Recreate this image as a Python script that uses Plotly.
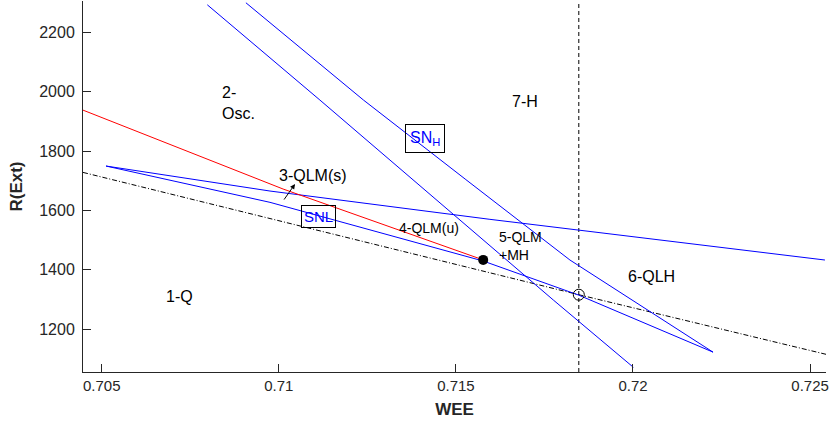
import plotly.graph_objects as go

# ---- data ----
red_x = [0.70447, 0.71012, 0.71577]
red_y = [1938.0, 1672.0, 1433.0]

dashdot_x = [0.70447, 0.71847, 0.72545]
dashdot_y = [1728.0, 1315.6, 1114.7]

snl_upper_x = [0.70512, 0.70975, 0.71596, 0.72542]
snl_upper_y = [1749.5, 1665.2, 1569.8, 1432.6]

snl_lower_x = [0.70512, 0.70975, 0.71577, 0.71846, 0.72226]
snl_lower_y = [1749.5, 1627.1, 1429.2, 1314.6, 1122.0]

snh_left_x = [0.70798, 0.71116, 0.71775, 0.72001]
snh_left_y = [2293.2, 1972.0, 1297.8, 1070.9]

snh_right_x = [0.70907, 0.71239, 0.71526, 0.71822, 0.72226]
snh_right_y = [2300.0, 1972.0, 1705.7, 1432.6, 1122.0]

vline_x = [0.71847, 0.71847]
vline_y = [1055.0, 2306.0]

dot_x, dot_y = [0.71577], [1433.0]
circ_x, circ_y = [0.71847], [1315.6]

x_ticks = [0.705, 0.71, 0.715, 0.72, 0.725]
x_ticklabels = ["0.705", "0.71", "0.715", "0.72", "0.725"]
y_ticks = [1200, 1400, 1600, 1800, 2000, 2200]
y_ticklabels = ["1200", "1400", "1600", "1800", "2000", "2200"]

x_range = [0.70447, 0.72545]
y_range = [1055.0, 2306.0]

FONT = "Liberation Sans, Arial, Helvetica, sans-serif"
AXC = "#262626"

fig = go.Figure()

def line(x, y, color, dash="solid", width=1):
    fig.add_trace(go.Scatter(x=x, y=y, mode="lines",
                             line=dict(color=color, width=width, dash=dash),
                             hoverinfo="skip", showlegend=False))

line(dashdot_x, dashdot_y, "black", dash="5px,2px,1px,2px")
line(vline_x, vline_y, "black", dash="4px,3px")
line(snl_upper_x, snl_upper_y, "#0000ff")
line(snl_lower_x, snl_lower_y, "#0000ff")
line(snh_left_x, snh_left_y, "#0000ff")
line(snh_right_x, snh_right_y, "#0000ff")
line(red_x, red_y, "#ff0000")

fig.add_trace(go.Scatter(x=dot_x, y=dot_y, mode="markers",
                         marker=dict(color="black", size=10),
                         hoverinfo="skip", showlegend=False))
fig.add_trace(go.Scatter(x=circ_x, y=circ_y, mode="markers",
                         marker=dict(color="rgba(0,0,0,0)", size=11,
                                     line=dict(color="black", width=1)),
                         hoverinfo="skip", showlegend=False))

def label(x, y, text, size=16, align="center", xanchor="center", color="black", **kw):
    fig.add_annotation(x=x, y=y, xref="x", yref="y", text=text, showarrow=False,
                       font=dict(family=FONT, size=size, color=color),
                       align=align, xanchor=xanchor, yanchor="middle", **kw)

label(0.707202, 1311.2, "1-Q")
label(0.70834, 1961.8, "2-<br>Osc.", align="left", xanchor="left")
label(0.716937, 1966.9, "7-H")
label(0.710957, 1719.1, "3-QLM(s)")
label(0.714235, 1540.5, "4-QLM(u)", size=14)
label(0.716152, 1481.5, "5-QLM<br>+MH", size=14, align="left", xanchor="left")
label(0.720536, 1377.6, "6-QLH")
label(0.714119, 1842.2, "SN<sub>H</sub>", color="#0000ff",
      bordercolor="black", borderwidth=1, borderpad=4)
label(0.711115, 1578.6, "SNL", size=15, color="#0000ff",
      bordercolor="black", borderwidth=1, borderpad=2)

# arrow for 3-QLM(s)
fig.add_annotation(x=0.710457, y=1688.8, xref="x", yref="y", ax=-12, ay=17,
                   text="", showarrow=True, arrowhead=2, arrowsize=1,
                   arrowwidth=1, arrowcolor="black")

fig.update_xaxes(range=x_range, tickvals=x_ticks, ticktext=x_ticklabels,
                 showgrid=False, zeroline=False, showline=True, linecolor=AXC,
                 linewidth=1, ticks="inside", ticklen=8, tickcolor=AXC,
                 ticklabeloverflow="allow",
                 tickfont=dict(family=FONT, size=15, color=AXC),
                 title=dict(text="<b>WEE</b>", font=dict(family=FONT, size=17, color=AXC),
                            standoff=10))
fig.update_yaxes(range=y_range, tickvals=y_ticks, ticktext=y_ticklabels,
                 showgrid=False, zeroline=False, showline=True, linecolor=AXC,
                 linewidth=1, ticks="inside", ticklen=8, tickcolor=AXC,
                 ticklabelstandoff=4,
                 tickfont=dict(family=FONT, size=16, color=AXC),
                 title=dict(text="<b>R(Ext)</b>", font=dict(family=FONT, size=17, color=AXC),
                            standoff=12))

fig.update_layout(width=830, height=429, margin=dict(l=83, r=4, t=1, b=57),
                  plot_bgcolor="white", paper_bgcolor="white")

fig.write_html("out.html")
